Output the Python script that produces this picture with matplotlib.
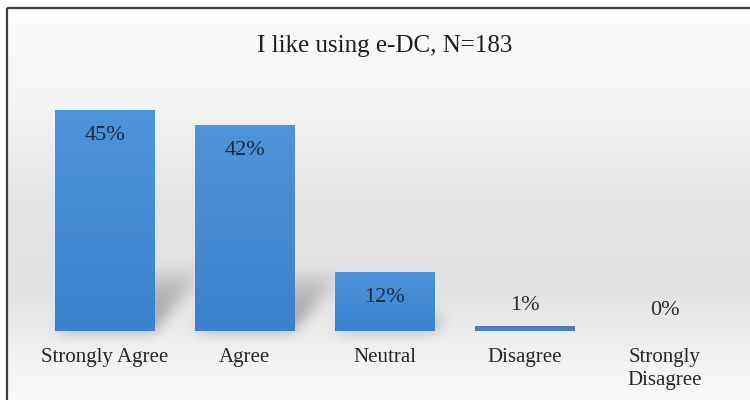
import matplotlib.pyplot as plt
import numpy as np
from matplotlib.colors import LinearSegmentedColormap

categories = ['Strongly Agree', 'Agree', 'Neutral', 'Disagree', 'Strongly\nDisagree']
percentages = [45, 42, 12, 1, 0]
title = 'I like using e-DC, N=183'

W, H = 750, 400
serif = 'Liberation Serif'

fig = plt.figure(figsize=(W / 100, H / 100), dpi=100)
fig.patch.set_facecolor('white')

ax = fig.add_axes([0.046, 0.1725, 0.934, 0.6125])
ax.patch.set_alpha(0)
for s in ax.spines.values():
    s.set_visible(False)

x = np.arange(len(categories))
width = 0.71
bars = ax.bar(x, percentages, width=width, color='#3d87d1', zorder=2)

# vertical shading on each bar, lighter at the top
bar_cmap = LinearSegmentedColormap.from_list('barfill', ['#3a82cd', '#4d94da'])
grad = np.linspace(0, 1, 64).reshape(-1, 1)
for xi, v in zip(x, percentages):
    if v >= 3:
        ax.imshow(grad, extent=[xi - width / 2, xi + width / 2, 0, v], origin='lower',
                  cmap=bar_cmap, aspect='auto', zorder=3)
    elif v > 0:
        ax.bar(xi, v, width=width, color='#4a80b8', zorder=3)

ax.set_xlim(-0.5, len(categories) - 0.5)
ax.set_ylim(0, 50)
ax.set_yticks([])
ax.set_xticks(x, categories)
for lbl in ax.get_xticklabels():
    lbl.set_fontfamily(serif)
    lbl.set_fontsize(15)
    lbl.set_color('#262626')
    lbl.set_verticalalignment('top')
    lbl.set_linespacing(1.3)
ax.tick_params(axis='x', length=0, pad=12)

# value labels: inside the tall bars, above the short ones
for xi, v in zip(x, percentages):
    if v >= 5:
        ax.annotate(f'{v}%', (xi, v), xytext=(0, -18), textcoords='offset points',
                    ha='center', va='center', fontsize=16, family=serif,
                    color='#1b2a3e', zorder=5)
    else:
        ax.annotate(f'{v}%', (xi, v), xytext=(0, 15), textcoords='offset points',
                    ha='center', va='center', fontsize=16, family=serif,
                    color='#2e2e2e', zorder=5)

fig.text(385 / W, 1 - 46 / H, title, ha='center', va='center', fontsize=18,
         family=serif, color='#1e1e1e')

# background: soft vertical gradient plus blurred diagonal bar shadows
rows = np.arange(H) + 0.5
level = np.interp(rows, [8, 90, 200, 290, 400], [252, 246, 229, 226, 251]) / 255.0
gray = np.repeat(level[:, None], W, axis=1)

yy, xx = np.mgrid[0:H, 0:W] + 0.5
shade = np.zeros((H, W))
for xi, v in zip(x, percentages):
    x0, y0 = ax.transData.transform((xi - width / 2, 0))
    x1, y1 = ax.transData.transform((xi + width / 2, v))
    h = y1 - y0
    if h < 10:
        continue
    base = H - y0
    top = 0.3 * h
    t = (base - yy) / top
    shift = 0.24 * h * t
    inside = (t >= 0) & (t <= 1) & (xx >= x0 + shift) & (xx <= x1 + shift)
    shade = np.maximum(shade, inside * 0.26 * (1 - t ** 2))


def box_blur(a, r):
    k = 2 * r + 1
    p = np.pad(a, ((r, r), (0, 0)), mode='edge')
    c = np.cumsum(np.vstack([np.zeros((1, a.shape[1])), p]), axis=0)
    a = (c[k:] - c[:-k]) / k
    p = np.pad(a, ((0, 0), (r, r)), mode='edge')
    c = np.cumsum(np.hstack([np.zeros((a.shape[0], 1)), p]), axis=1)
    return (c[:, k:] - c[:, :-k]) / k


for _ in range(3):
    shade = box_blur(shade, 6)

gray = gray - shade
gray[:9, :] = 1.0
gray[:, :8] = 1.0
img = np.dstack([gray, gray, gray]).clip(0, 1)

bg = fig.add_axes([0, 0, 1, 1], zorder=-1)
bg.imshow(img, extent=[0, W, 0, H], aspect='auto', interpolation='bilinear')
bg.plot([7, W], [H - 8, H - 8], color='#3c3c3c', lw=1.6, solid_capstyle='butt')
bg.plot([7, 7], [0, H - 8], color='#3c3c3c', lw=1.6, solid_capstyle='butt')
bg.set_xlim(0, W)
bg.set_ylim(0, H)
bg.axis('off')

fig.savefig('out.png', dpi=100)
